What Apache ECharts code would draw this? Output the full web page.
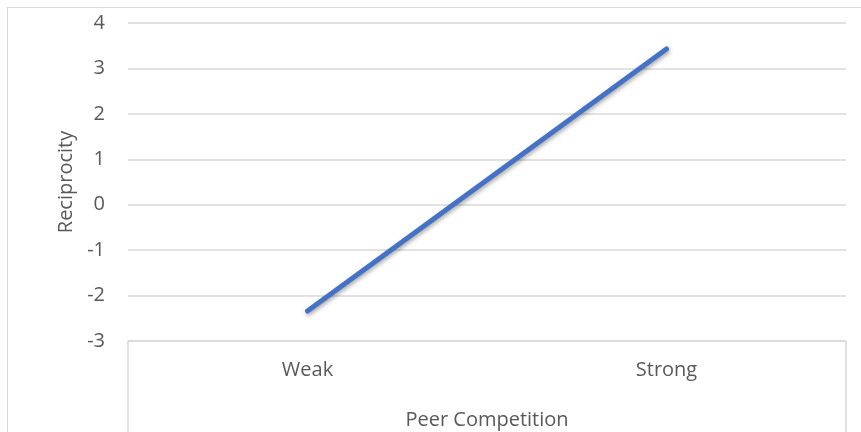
<!DOCTYPE html>
<html>
<head>
<meta charset="utf-8">
<script src="https://cdn.jsdelivr.net/npm/echarts@6/dist/echarts.min.js"></script>
<style>
    html, body { margin: 0; padding: 0; background: #fff; }
    #chart { width: 861px; height: 432px; }
    #frame {
        position: absolute; left: 7px; top: 7px; width: 900px; height: 500px;
        border: 1px solid #d9d9d9; pointer-events: none;
    }
</style>
</head>
<body>
<div id="chart"></div>
<div id="frame"></div>
<script>
var categories = ['Weak', 'Strong'];
var reciprocity = [-2.34, 3.43];
var yTicks = [-3, -2, -1, 0, 1, 2, 3, 4];

var myChart = echarts.init(document.getElementById('chart'));
var font = '"Open Sans", "Liberation Sans", sans-serif';
var option = {
    animation: false,
    grid: {
        left: 128,
        right: 15,
        top: 23,
        bottom: 91,
        containLabel: false,
        outerBoundsMode: 'none'
    },
    xAxis: {
        type: 'category',
        data: categories,
        boundaryGap: true,
        name: 'Peer Competition',
        nameLocation: 'middle',
        nameGap: 69,
        nameTextStyle: { color: '#595959', fontSize: 20, fontFamily: font },
        axisLine: { onZero: false, lineStyle: { color: '#d9d9d9', width: 1.5 } },
        axisTick: {
            show: true,
            length: 100,
            inside: false,
            interval: function (index) { return index === 0; },
            lineStyle: { color: '#d9d9d9', width: 1.5 }
        },
        axisLabel: { color: '#595959', fontSize: 20, fontFamily: font, margin: 19 }
    },
    yAxis: {
        type: 'value',
        min: yTicks[0],
        max: yTicks[yTicks.length - 1],
        interval: 1,
        name: 'Reciprocity',
        nameLocation: 'middle',
        nameGap: 52,
        nameTextStyle: { color: '#595959', fontSize: 20, fontFamily: font },
        axisLine: { show: false },
        axisTick: { show: false },
        axisLabel: { color: '#595959', fontSize: 20, fontFamily: font, margin: 23 },
        splitLine: { lineStyle: { color: '#d9d9d9', width: 1.5 } }
    },
    series: [{
        type: 'line',
        data: reciprocity,
        symbol: 'none',
        lineStyle: {
            color: '#4472C4',
            width: 5,
            cap: 'round',
            shadowColor: 'rgba(0,0,0,0.35)',
            shadowBlur: 4,
            shadowOffsetX: 1,
            shadowOffsetY: 2
        }
    }]
};
myChart.setOption(option);
</script>
</body>
</html>
